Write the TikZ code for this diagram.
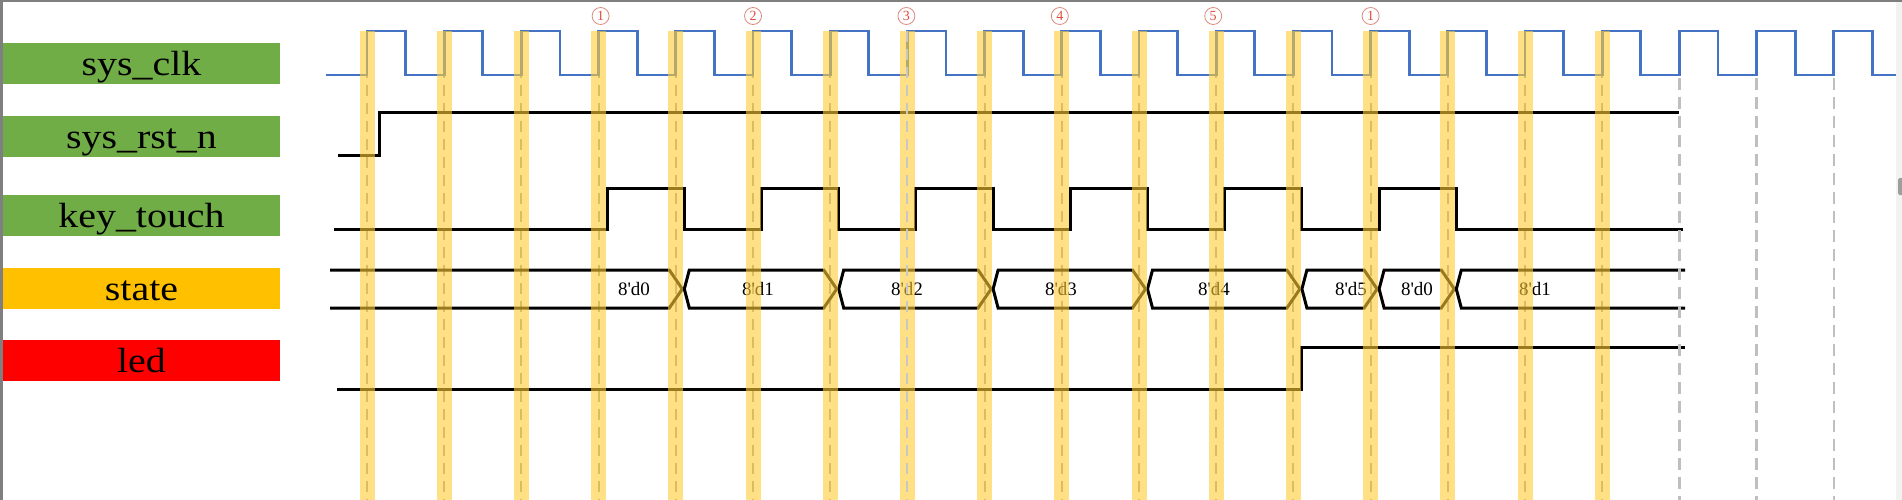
\documentclass[tikz,border=0pt]{standalone}
\usepackage{fontspec}
\setmainfont{Liberation Serif}
\definecolor{lgreen}{HTML}{70AD47}
\definecolor{lgold}{HTML}{FFC000}
\definecolor{lred}{HTML}{FF0000}
\definecolor{clkblue}{HTML}{4472C4}
\definecolor{barcol}{HTML}{FFCC33}
\definecolor{framegray}{HTML}{7F7F7F}
\definecolor{numred}{HTML}{E04A3A}
\definecolor{numring}{HTML}{D98A80}
\newcommand\rx[1]{(367+77.2*(#1))}
\newcommand\tk[1]{(375.5+77.2*(#1))}
\newcommand\wide[1]{\scalebox{1.14}[1]{#1}}
\begin{document}
\begin{tikzpicture}[x=1pt,y=-1pt,
  lab/.style={minimum width=277pt, minimum height=41pt, inner sep=0pt,
    text height=24pt, text depth=0pt, font=\fontsize{35}{37}\selectfont},
  sig/.style={line width=3pt, black, line join=miter},
  clk/.style={line width=2.8pt, clkblue, line join=miter},
  bar/.style={fill=barcol, opacity=0.6},
  bardash/.style={draw=black!35, line width=2pt, dash pattern=on 11pt off 7pt},
  enddash/.style={draw=black!25, line width=2.5pt, dash pattern=on 12pt off 7pt},
  num/.style={circle, draw=numring, line width=0.8pt, minimum size=17pt,
    inner sep=0pt, text=numred, font=\fontsize{14}{15}\selectfont},
  val/.style={font=\fontsize{19}{20}\selectfont, inner sep=0pt}
]
\useasboundingbox (0,0) rectangle (1902,500);
\fill[white] (0,0) rectangle (1902,500);
% frame
\fill[framegray] (0,0) rectangle (1902,2.5);
\fill[framegray] (0,0) rectangle (2.5,500);
\fill[black!5] (1896,2.5) rectangle (1902,500);
\fill[black!38, rounded corners=1.5pt] (1898,178) rectangle (1904,195);

% labels
\node[lab, fill=lgreen] (lclk) at (141.5,63.5) {\wide{sys\_clk}};
\node[lab, fill=lgreen] (lrst) at (141.5,136.5) {\wide{sys\_rst\_n}};
\node[lab, fill=lgreen] (lkey) at (141.5,215.5) {\wide{key\_touch}};
\node[lab, fill=lgold]  (lstate) at (141.5,288) {\wide{state}};
\node[lab, fill=lred]   (lled) at (141.5,360.5) {\wide{led}};

% dashed guides inside bars
\foreach \k in {0,...,16} {
  \draw[bardash] ({\rx{\k}},31) -- ({\rx{\k}},500);
}

% sys_clk
\draw[clk] (326,75) foreach \k in {0,...,19} {
  -- ({\rx{\k}},75) -- ({\rx{\k}},31) -- ({\rx{\k}+38.6},31) -- ({\rx{\k}+38.6},75)
} -- (1896,75);

% sys_rst_n
\draw[sig] (338,155) -- (379,155) -- (379,113) -- (1679,113);

% key_touch
\draw[sig] (334,229) foreach \k in {3,5,7,9,11,13} {
  -- ({\tk{\k}},229) -- ({\tk{\k}},188) -- ({\tk{\k+1}},188) -- ({\tk{\k+1}},229)
} -- (1683,229);

% state bus
\draw[sig] (330,270) -- ({\tk{4}-15},270) -- ({\tk{4}-2},289) -- ({\tk{4}-15},308) -- (330,308);
\foreach \a/\b in {4/6,6/8,8/10,10/12,12/13,13/14} {
  \draw[sig] ({\tk{\a}},289) -- ({\tk{\a}+5},270) -- ({\tk{\b}-15},270) -- ({\tk{\b}-2},289)
    -- ({\tk{\b}-15},308) -- ({\tk{\a}+5},308) -- cycle;
}
\draw[sig] (1685,270) -- ({\tk{14}+5},270) -- ({\tk{14}},289) -- ({\tk{14}+5},308) -- (1685,308);

\node[val] (v0) at (634,289) {8\textquotesingle d0};
\node[val] (v1) at (758,289) {8\textquotesingle d1};
\node[val] (v2) at (907,289) {8\textquotesingle d2};
\node[val] (v3) at (1061,289) {8\textquotesingle d3};
\node[val] (v4) at (1214,289) {8\textquotesingle d4};
\node[val] (v5) at (1351,289) {8\textquotesingle d5};
\node[val] (v6) at (1417,289) {8\textquotesingle d0};
\node[val] (v7) at (1535,289) {8\textquotesingle d1};

% led
\draw[sig] (337,389) -- ({\tk{12}},389) -- ({\tk{12}},347) -- (1685,347);

% yellow bars
\foreach \k in {0,...,16} {
  \fill[bar] ({\rx{\k}-7.5},31) rectangle ({\rx{\k}+7.5},500);
}
\draw[bardash, draw=black!22] ({\rx{7}},31) -- ({\rx{7}},500);

% trailing dashed guides
\foreach \k in {17,18,19} {
  \draw[enddash] ({\rx{\k}},78) -- ({\rx{\k}},500);
}

% circled numbers
\node[num] (n1) at ({\rx{3}+2},16) {1};
\node[num] (n2) at ({\rx{5}},16) {2};
\node[num] (n3) at ({\rx{7}-1},16) {3};
\node[num] (n4) at ({\rx{9}-2},16) {4};
\node[num] (n5) at ({\rx{11}-3},16) {5};
\node[num] (n6) at ({\rx{13}},16) {1};
\end{tikzpicture}
\end{document}
